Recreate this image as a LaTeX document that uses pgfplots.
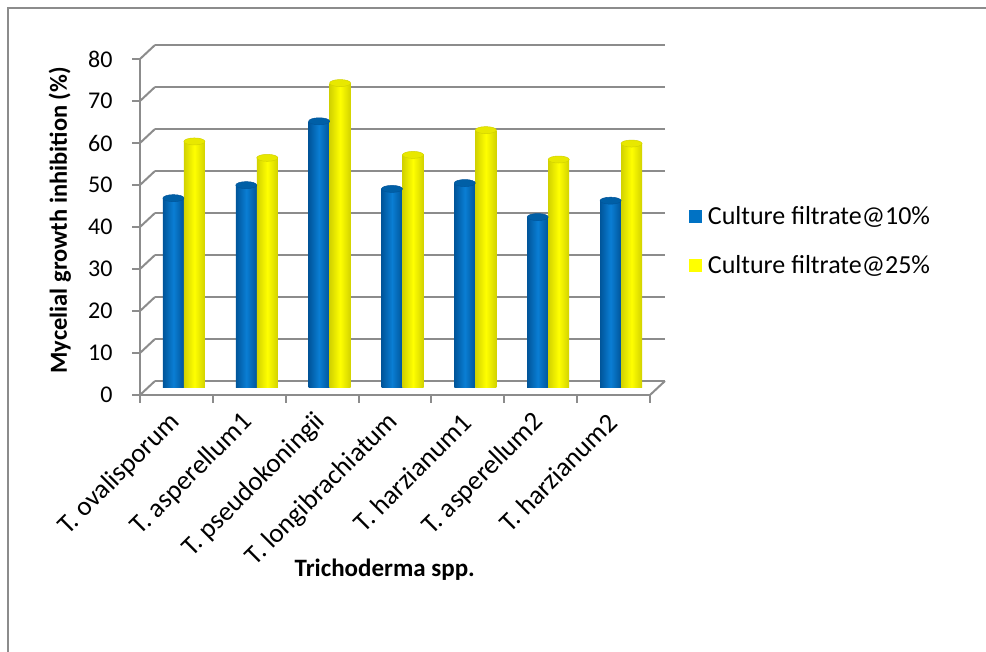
\documentclass[border=0pt]{standalone}
\usepackage{pgfplots}
\pgfplotsset{compat=1.18}
\usepackage{fontspec}
\setmainfont{Carlito}
\usetikzlibrary{shapes.geometric}
\definecolor{gridgray}{HTML}{8C8C8C}
\definecolor{bmain}{HTML}{0072C4}
\definecolor{bdark}{HTML}{00559A}
\definecolor{blight}{HTML}{0A7ED4}
\definecolor{bcap}{HTML}{005FA6}
\definecolor{ymain}{HTML}{FFFF00}
\definecolor{ydark}{HTML}{D2D200}
\definecolor{ycap}{HTML}{E8E800}
\pgfplotsset{
  bluebar/.style={ybar, bar width=21pt, bar shift=-10.5pt, draw=none,
    left color=bdark, right color=bdark, middle color=blight,
    nodes near coords={}, nodes near coords align=center,
    every node near coord/.append style={xshift=-10.5pt, ellipse, anchor=center, minimum width=21pt, minimum height=7pt, inner sep=0pt, fill=bcap, draw=bdark, line width=0.5pt}},
  yelbar/.style={ybar, bar width=21pt, bar shift=10.5pt, draw=none,
    left color=ydark, right color=ydark, middle color=ymain,
    nodes near coords={}, nodes near coords align=center,
    every node near coord/.append style={xshift=10.5pt, ellipse, anchor=center, minimum width=21pt, minimum height=7pt, inner sep=0pt, fill=ycap, draw=ydark, line width=0.5pt}},
}
\begin{document}
\begin{tikzpicture}
\useasboundingbox (0,0) rectangle (986pt,652pt);
\draw[gridgray, line width=1.5pt] (8pt,0pt) -- (8pt,644pt) -- (986pt,644pt);
% back wall grid
\begin{axis}[
  at={(155pt,271pt)}, anchor=south west,
  width=510pt, height=336pt, scale only axis,
  xmin=-0.5, xmax=6.5, ymin=0, ymax=80,
  axis line style={draw=none},
  xtick=\empty, ytick={0,10,...,80}, yticklabels={},
  major tick length=0pt,
  ymajorgrids, grid style={gridgray, line width=2pt},
]
\end{axis}
% bars
\begin{axis}[
  at={(147.5pt,264pt)}, anchor=south west,
  width=510pt, height=336pt, scale only axis,
  xmin=-0.5, xmax=6.5, ymin=0, ymax=80,
  axis line style={draw=none}, xtick=\empty, ytick=\empty,
  clip=false,
]
\addplot[bluebar] coordinates {(0,45.2)};
\addplot[bluebar] coordinates {(1,48.3)};
\addplot[bluebar] coordinates {(2,63.5)};
\addplot[bluebar] coordinates {(3,47.4)};
\addplot[bluebar] coordinates {(4,48.8)};
\addplot[bluebar] coordinates {(5,40.7)};
\addplot[bluebar] coordinates {(6,44.6)};
\addplot[yelbar] coordinates {(0,58.7)};
\addplot[yelbar] coordinates {(1,54.8)};
\addplot[yelbar] coordinates {(2,72.6)};
\addplot[yelbar] coordinates {(3,55.5)};
\addplot[yelbar] coordinates {(4,61.4)};
\addplot[yelbar] coordinates {(5,54.4)};
\addplot[yelbar] coordinates {(6,58.2)};
\end{axis}
% front axis
\begin{axis}[
  at={(140pt,257pt)}, anchor=south west,
  width=510pt, height=336pt, scale only axis,
  xmin=-0.5, xmax=6.5, ymin=0, ymax=80,
  axis x line*=bottom, axis y line*=left,
  axis line style={gridgray, line width=2pt, -},
  tick align=outside, major tick length=8pt,
  tick style={gridgray, line width=2pt},
  ytick={0,10,...,80},
  /pgf/number format/assume math mode=true,
  yticklabel style={font=\fontsize{24}{28}\selectfont, xshift=-16pt},
  xtick={-0.5,0.5,...,6.5}, xticklabels={},
  extra x ticks={0,1,2,3,4,5,6},
  extra x tick labels={T. ovalisporum, T. asperellum1, T. pseudokoningii, T. longibrachiatum, T. harzianum1, T. asperellum2, T. harzianum2},
  extra x tick style={major tick length=0pt, tick style={draw=none},
    xticklabel style={font=\fontsize{27}{30}\selectfont, xshift=-1pt, yshift=-23pt, rotate=45, anchor=east, inner sep=0pt}},
  every axis y label/.style={at={(axis description cs:-0.157,0.52)}, anchor=center, rotate=90},
  ylabel={\bfseries Mycelial growth inhibition (\%)},
  ylabel style={font=\fontsize{24.5}{28}\selectfont},
  every axis x label/.style={at={(axis description cs:0.48,-0.521)}, anchor=center},
  xlabel={\bfseries Trichoderma spp.},
  xlabel style={font=\fontsize{25}{28}\selectfont},
  legend style={at={(axis description cs:1.07,0.574)}, anchor=north west,
    draw=none, fill=none, font=\fontsize{26}{30}\selectfont,
    row sep=26pt, cells={anchor=west}},
  legend image code/.code={\fill[#1, draw=none] (0pt,-6.5pt) rectangle (13pt,6.5pt); \path[draw=none, fill=none] (0pt,0pt) -- (17pt,0pt);},
  clip=false,
]
\addlegendimage{fill=bmain}
\addlegendentry{Culture filtrate@10\%}
\addlegendimage{fill=ymain}
\addlegendentry{Culture filtrate@25\%}
\pgfplotsinvokeforeach{0,10,...,80}{
  \draw[gridgray, line width=2pt] (axis cs:-0.5,#1) -- ++(15pt,14pt);
}
\draw[gridgray, line width=2pt] (axis cs:6.5,0) -- ++(15pt,14pt);
\end{axis}
\end{tikzpicture}
\end{document}
